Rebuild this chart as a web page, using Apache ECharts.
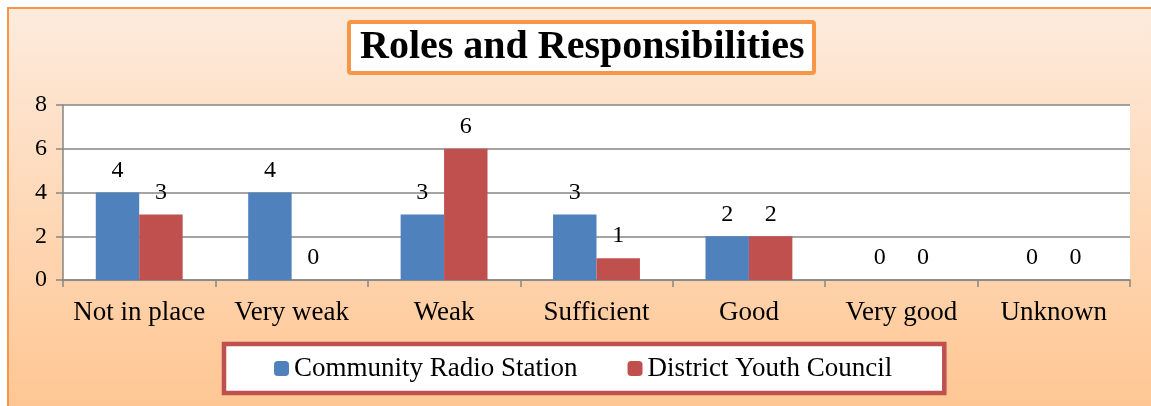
<!DOCTYPE html>
<html lang="en">
<head>
    <meta charset="UTF-8">
    <title>Roles and Responsibilities</title>
    <script src="https://cdn.jsdelivr.net/npm/echarts@6/dist/echarts.min.js"></script>
    <style>
        html, body { margin: 0; padding: 0; background: #fff; }
        #chart { width: 1151px; height: 406px; }
    </style>
</head>
<body>
    <div id="chart"></div>
    <script>
        // data
        const categories = ['Not in place', 'Very weak', 'Weak', 'Sufficient', 'Good', 'Very good', 'Unknown'];
        const radioStation = [4, 4, 3, 3, 2, 0, 0];
        const youthCouncil = [3, 0, 6, 1, 2, 0, 0];
        const seriesNames = ['Community Radio Station', 'District Youth Council'];

        const serif = '"Liberation Serif", "DejaVu Serif", serif';
        const labelStyle = {
            show: true,
            position: 'top',
            distance: 10,
            color: '#000',
            fontFamily: serif,
            fontSize: 24
        };

        var myChart = echarts.init(document.getElementById('chart'));

        var option = {
            animation: false,
            // outer frame with the peach gradient
            graphic: [{
                type: 'rect',
                z: -10,
                shape: { x: 8, y: 8, width: 1160, height: 410 },
                style: {
                    fill: new echarts.graphic.LinearGradient(0, 0, 0, 1, [
                        { offset: 0, color: '#fdebdd' },
                        { offset: 1, color: '#ffc590' }
                    ]),
                    stroke: '#f79646',
                    lineWidth: 2
                }
            }],
            title: {
                text: 'Roles and Responsibilities',
                left: 349,
                top: 22,
                backgroundColor: '#fff',
                borderColor: '#f79646',
                borderWidth: 4,
                borderRadius: 2,
                padding: [6, 10, 5, 11],
                textStyle: {
                    fontFamily: serif,
                    fontWeight: 'bold',
                    fontSize: 40,
                    color: '#000'
                }
            },
            legend: {
                data: seriesNames,
                bottom: 13,
                left: 224,
                backgroundColor: '#fff',
                borderColor: '#c0504d',
                borderWidth: 4.5,
                padding: [11, 52, 11, 50],
                itemWidth: 15,
                itemHeight: 15,
                itemGap: 50,
                textStyle: {
                    fontFamily: serif,
                    fontSize: 27,
                    color: '#000'
                }
            },
            grid: {
                left: 63,
                right: 21,
                top: 105,
                bottom: 126,
                show: true,
                backgroundColor: '#fff',
                borderWidth: 0
            },
            xAxis: {
                type: 'category',
                data: categories,
                axisLine: { lineStyle: { color: '#868686', width: 1.5 } },
                axisTick: { show: true, length: 7, lineStyle: { color: '#868686', width: 1.5 } },
                axisLabel: {
                    interval: 0,
                    fontFamily: serif,
                    fontSize: 27,
                    color: '#000',
                    margin: 19
                }
            },
            yAxis: {
                type: 'value',
                min: 0,
                max: 8,
                interval: 2,
                axisLine: { show: true, lineStyle: { color: '#868686', width: 1.5 } },
                axisTick: { show: true, length: 7, lineStyle: { color: '#868686', width: 1.5 } },
                splitLine: { lineStyle: { color: '#868686', width: 1.5 } },
                axisLabel: {
                    fontFamily: serif,
                    fontSize: 24,
                    color: '#000',
                    margin: 16
                }
            },
            series: [
                {
                    name: seriesNames[0],
                    type: 'bar',
                    data: radioStation,
                    barGap: '0%',
                    barCategoryGap: '43%',
                    itemStyle: { color: '#4f81bd' },
                    label: labelStyle
                },
                {
                    name: seriesNames[1],
                    type: 'bar',
                    data: youthCouncil,
                    itemStyle: { color: '#c0504d' },
                    label: labelStyle
                }
            ]
        };

        myChart.setOption(option);
    </script>
</body>
</html>
